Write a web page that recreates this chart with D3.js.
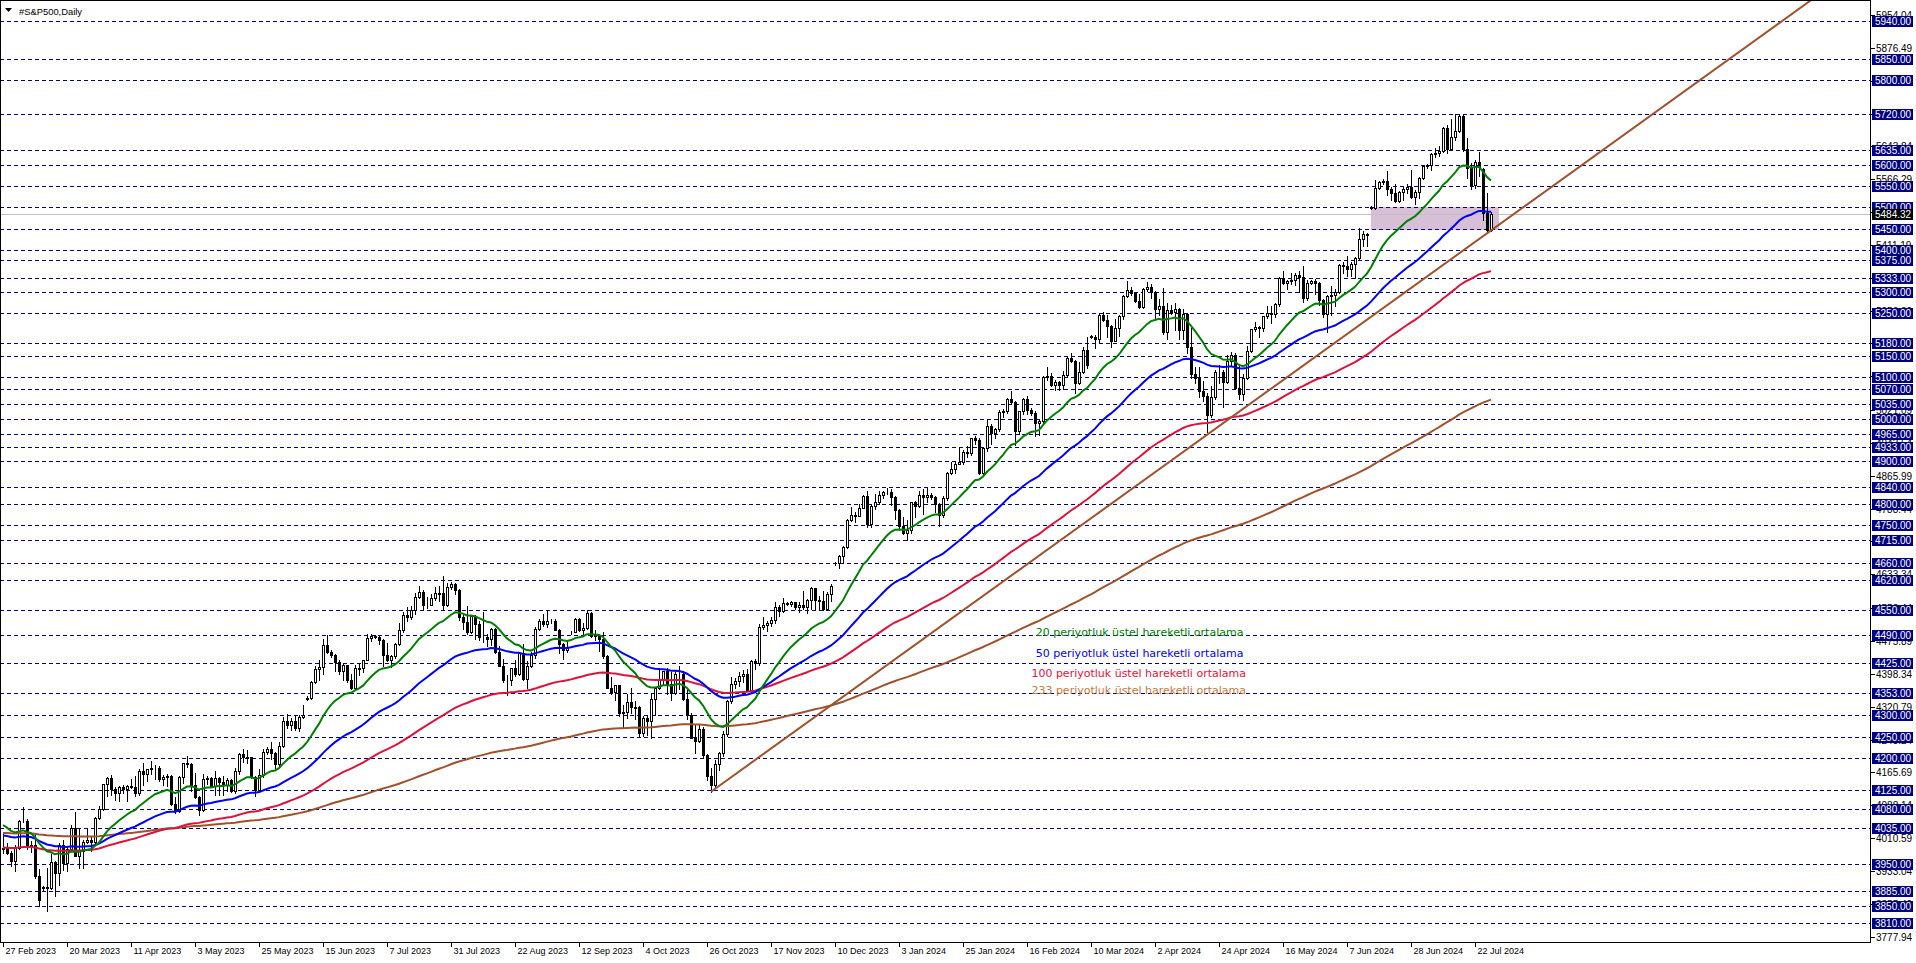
<!DOCTYPE html>
<html><head><meta charset="utf-8">
<script src="https://cdn.jsdelivr.net/npm/d3@7"></script>
<style>body{margin:0;background:#fff;overflow:hidden}svg{display:block}</style>
</head><body><svg id="chart" width="1916" height="963"></svg>
<script>
// ---------- DATA ----------
const opens = [3985,3988,3976,3956,3986,4051,4052,3990,3995,3921,3893,3894,3892,3955,3927,3995,3951,3984,4034,3969,3980,4002,4007,4001,4057,4080,4138,4152,4127,4118,4131,4126,4134,4132,4116,4170,4161,4173,4176,4176,4151,4154,4157,4090,4075,4154,4187,4185,4137,4107,4077,4151,4152,4133,4152,4143,4137,4148,4121,4170,4208,4202,4201,4154,4123,4159,4213,4222,4212,4186,4227,4287,4277,4287,4271,4297,4340,4342,4380,4410,4414,4467,4450,4444,4427,4404,4419,4385,4366,4413,4412,4430,4484,4488,4486,4478,4443,4430,4440,4469,4501,4538,4533,4549,4581,4591,4560,4561,4578,4590,4589,4560,4604,4610,4597,4533,4521,4497,4536,4516,4485,4485,4480,4505,4451,4418,4383,4383,4412,4399,4447,4386,4416,4442,4505,4522,4515,4522,4524,4502,4470,4455,4496,4498,4527,4501,4506,4543,4488,4490,4480,4440,4365,4355,4371,4307,4308,4332,4320,4319,4259,4293,4287,4338,4364,4385,4404,4375,4354,4398,4398,4339,4301,4247,4240,4269,4207,4157,4137,4186,4212,4256,4335,4375,4381,4393,4398,4361,4429,4425,4508,4514,4519,4525,4557,4547,4565,4564,4567,4556,4561,4556,4573,4600,4573,4570,4552,4587,4659,4661,4677,4699,4761,4774,4772,4791,4819,4752,4795,4804,4821,4827,4828,4815,4785,4747,4730,4738,4803,4795,4821,4817,4820,4815,4800,4773,4813,4872,4882,4895,4899,4923,4920,4955,4951,4872,4931,4984,4966,4976,5017,5019,5047,5041,4971,5019,5047,5022,5015,4990,4996,5100,5101,5080,5088,5080,5105,5145,5138,5085,5111,5162,5195,5194,5188,5246,5235,5219,5185,5215,5244,5290,5305,5297,5279,5265,5308,5313,5299,5260,5266,5205,5257,5253,5259,5211,5248,5171,5107,5096,5067,5055,5010,5051,5110,5111,5087,5138,5152,5073,5060,5098,5161,5212,5217,5216,5243,5251,5247,5272,5332,5321,5326,5329,5341,5335,5287,5322,5325,5321,5281,5249,5291,5294,5301,5364,5361,5355,5367,5381,5426,5438,5500,5499,5546,5559,5562,5544,5534,5516,5536,5544,5547,5524,5537,5570,5597,5599,5625,5628,5632,5687,5638,5667,5681,5716,5637,5593,5552,5608,5590,5487,5447];
const highs = [4024,4000,3980,3995,4053,4083,4056,4004,4021,3938,3897,3941,3973,3957,4000,4005,3989,4042,4071,4032,4005,4033,4012,4060,4087,4139,4155,4160,4131,4134,4135,4135,4149,4158,4174,4187,4174,4192,4183,4181,4159,4162,4160,4108,4156,4188,4204,4188,4164,4110,4162,4156,4154,4168,4155,4156,4153,4150,4175,4212,4222,4218,4203,4156,4174,4221,4226,4237,4214,4238,4296,4303,4293,4302,4301,4325,4345,4382,4416,4432,4480,4489,4455,4446,4430,4421,4420,4399,4419,4425,4432,4492,4492,4491,4490,4480,4471,4442,4471,4518,4545,4556,4559,4589,4605,4596,4581,4587,4604,4606,4629,4612,4616,4612,4599,4538,4559,4538,4538,4522,4544,4493,4507,4507,4463,4434,4395,4413,4430,4448,4468,4428,4449,4508,4529,4539,4548,4527,4528,4505,4472,4477,4500,4530,4530,4518,4549,4545,4503,4492,4498,4442,4392,4372,4373,4325,4350,4365,4335,4322,4298,4298,4353,4366,4412,4406,4411,4403,4408,4417,4405,4363,4305,4278,4280,4272,4210,4177,4196,4213,4263,4336,4390,4389,4402,4407,4409,4432,4434,4516,4533,4522,4532,4567,4560,4577,4568,4570,4568,4567,4593,4575,4604,4602,4582,4593,4592,4611,4663,4678,4700,4763,4793,4780,4800,4821,4829,4797,4822,4830,4831,4838,4835,4818,4788,4768,4762,4804,4806,4829,4836,4838,4826,4818,4802,4818,4874,4899,4898,4933,4927,4936,4956,4960,4955,4932,5000,4988,4979,5022,5024,5050,5067,5043,5020,5050,5055,5026,5018,5000,5102,5123,5109,5092,5090,5113,5148,5156,5140,5134,5170,5194,5199,5199,5251,5252,5246,5222,5236,5245,5292,5325,5312,5298,5296,5309,5324,5320,5302,5283,5310,5275,5270,5274,5262,5260,5250,5214,5124,5122,5090,5062,5079,5116,5128,5115,5152,5159,5155,5130,5107,5172,5212,5230,5220,5244,5267,5266,5275,5335,5349,5328,5346,5344,5349,5361,5329,5328,5330,5323,5284,5293,5314,5308,5365,5371,5384,5372,5382,5452,5445,5440,5502,5564,5562,5566,5585,5548,5555,5539,5549,5555,5587,5541,5571,5599,5602,5628,5639,5645,5690,5695,5708,5720,5720,5719,5663,5604,5612,5630,5592,5534,5490];
const lows = [3976,3974,3945,3933,3984,4048,3984,3978,3917,3850,3888,3838,3890,3873,3900,3935,3933,3982,3968,3941,3940,3998,3981,4000,4055,4078,4110,4113,4100,4098,4118,4097,4128,4111,4112,4137,4146,4161,4150,4145,4135,4134,4088,4069,4072,4140,4178,4122,4104,4064,4075,4138,4130,4112,4112,4112,4122,4120,4118,4163,4190,4188,4152,4111,4120,4155,4210,4198,4172,4180,4225,4270,4266,4266,4264,4295,4336,4338,4376,4384,4398,4447,4438,4405,4398,4385,4378,4362,4362,4395,4402,4430,4475,4482,4468,4416,4428,4415,4436,4466,4498,4522,4528,4540,4578,4552,4553,4560,4572,4570,4550,4558,4598,4587,4525,4504,4493,4495,4481,4479,4474,4465,4466,4447,4417,4378,4348,4373,4394,4396,4385,4366,4414,4436,4501,4512,4508,4518,4501,4448,4434,4450,4493,4496,4499,4492,4504,4485,4479,4453,4436,4364,4351,4337,4298,4271,4294,4307,4292,4250,4251,4255,4248,4300,4362,4372,4351,4337,4350,4362,4336,4292,4246,4212,4238,4202,4147,4120,4130,4172,4205,4252,4330,4364,4370,4380,4357,4355,4410,4420,4505,4499,4511,4518,4534,4545,4561,4558,4551,4545,4551,4542,4552,4551,4551,4549,4550,4571,4656,4648,4661,4695,4759,4757,4770,4789,4745,4745,4788,4800,4814,4822,4796,4765,4742,4728,4715,4730,4768,4792,4776,4805,4812,4781,4748,4768,4810,4870,4872,4893,4895,4911,4914,4940,4871,4866,4925,4942,4955,4972,5006,5015,5035,4938,4965,5012,5012,5010,4960,4962,4990,5093,5079,5068,5068,5070,5100,5134,5062,5083,5108,5121,5191,5167,5180,5231,5193,5171,5185,5196,5236,5288,5293,5277,5262,5262,5302,5285,5239,5245,5200,5190,5248,5210,5188,5188,5155,5098,5084,5052,5043,4970,5005,5048,5086,5029,5085,5125,5071,5048,5046,5095,5158,5208,5194,5209,5239,5228,5240,5268,5320,5306,5319,5317,5301,5276,5282,5318,5295,5269,5242,5205,5246,5267,5298,5344,5339,5337,5333,5378,5408,5408,5497,5497,5543,5556,5530,5517,5513,5513,5518,5534,5523,5508,5521,5567,5594,5588,5619,5622,5630,5629,5635,5660,5679,5632,5570,5544,5545,5574,5470,5440,5443];
const closes = [3988,3976,3956,3986,4051,4052,3990,3995,3921,3865,3894,3892,3955,3927,3995,3951,3984,4034,3969,3980,4002,4007,4001,4057,4080,4138,4152,4127,4118,4131,4126,4134,4132,4116,4170,4161,4173,4176,4176,4151,4154,4157,4090,4075,4154,4187,4185,4137,4107,4077,4151,4152,4133,4152,4143,4137,4148,4121,4170,4208,4202,4201,4154,4123,4159,4213,4222,4212,4186,4227,4287,4277,4287,4271,4297,4302,4342,4380,4410,4414,4467,4450,4444,4427,4404,4419,4385,4366,4413,4412,4430,4484,4488,4486,4478,4443,4430,4440,4469,4501,4538,4533,4549,4581,4591,4560,4561,4578,4590,4589,4560,4604,4610,4597,4533,4521,4497,4536,4516,4485,4485,4480,4505,4451,4418,4383,4383,4412,4399,4447,4386,4416,4442,4505,4522,4515,4522,4524,4502,4470,4455,4461,4498,4527,4501,4506,4543,4488,4490,4480,4440,4365,4355,4371,4307,4308,4332,4320,4319,4259,4293,4287,4338,4364,4385,4404,4375,4354,4398,4398,4339,4301,4247,4240,4269,4207,4157,4137,4186,4212,4256,4335,4375,4381,4393,4398,4361,4429,4425,4508,4514,4519,4525,4557,4547,4565,4564,4567,4556,4561,4556,4573,4600,4573,4570,4552,4587,4606,4661,4677,4699,4761,4774,4772,4791,4819,4752,4795,4804,4821,4827,4828,4815,4785,4747,4730,4738,4803,4795,4821,4817,4820,4815,4800,4773,4813,4872,4882,4895,4899,4923,4920,4955,4951,4872,4931,4984,4966,4976,5017,5019,5047,5041,4971,5019,5047,5022,5015,4990,4996,5100,5101,5080,5088,5080,5105,5145,5138,5085,5111,5162,5128,5194,5188,5246,5235,5219,5185,5215,5244,5290,5305,5297,5279,5265,5308,5313,5299,5260,5266,5205,5257,5253,5259,5211,5248,5171,5107,5096,5067,5055,5010,5051,5110,5111,5087,5138,5152,5073,5060,5098,5161,5212,5217,5216,5243,5251,5247,5272,5332,5321,5326,5329,5341,5335,5287,5322,5325,5321,5281,5249,5291,5294,5301,5364,5361,5355,5367,5381,5426,5438,5435,5499,5546,5559,5562,5544,5534,5516,5536,5544,5547,5524,5537,5570,5597,5599,5625,5628,5632,5687,5638,5667,5681,5716,5637,5593,5552,5608,5595,5487,5447,5484.32];

const dateLabels = ["27 Feb 2023","20 Mar 2023","11 Apr 2023","3 May 2023","25 May 2023","15 Jun 2023","7 Jul 2023","31 Jul 2023","22 Aug 2023","12 Sep 2023","4 Oct 2023","26 Oct 2023","17 Nov 2023","10 Dec 2023","3 Jan 2024","25 Jan 2024","16 Feb 2024","10 Mar 2024","2 Apr 2024","24 Apr 2024","16 May 2024","7 Jun 2024","28 Jun 2024","22 Jul 2024"];
const dateLabelBars = [0,16,32,48,64,80,96,112,128,144,160,176,192,208,224,240,256,272,288,304,320,336,352,368];

const levelPrices = [5940,5850,5800,5720,5635,5600,5550,5500,5450,5400,5375,5333,5300,5250,5180,5150,5100,5070,5035,5000,4965,4933,4900,4840,4800,4750,4715,4660,4620,4550,4490,4425,4353,4300,4250,4200,4125,4080,4035,3950,3885,3850,3810];
const priceTicks = [5954.04,5876.49,5798.94,5721.39,5643.84,5566.29,5488.74,5411.19,5333.64,5256.09,5178.54,5100.99,5021.09,4943.54,4865.99,4788.44,4710.89,4633.34,4553.44,4475.89,4398.34,4320.79,4243.24,4165.69,4088.14,4010.59,3933.04,3855.49,3777.94];
const lastPrice = 5484.32;

const emaPeriods = [233, 100, 50, 20];
const emaSeeds = [4023, 3988, 4018, 4047];

const legendTexts = ["20 periyotluk üstel hareketli ortalama","50 periyotluk üstel hareketli ortalama","100 periyotluk üstel hareketli ortalama","233 periyotluk üstel hareketli ortalama"];

const trendBars = [177, 374];
const trendPrices = [4120, 5459];
const zoneBars = [342, 374];
const zonePrices = [5500, 5446];
const chartTitle = "#S&P500,Daily";

// ---------- STYLE / LAYOUT ----------
const W = 1916, H = 963, plotR = 1870, plotB = 942;
const emaColors = {233:"#a0522d", 100:"#dc143c", 50:"#0000ff", 20:"#008000"};
const legendColors = ["#008000","#0000ff","#e8103a","#c87a40"];
const legendPos = [[258.2,4497],[258.2,4448],[257.1,4400],[257.1,4360]];
const navy = "#000080";

const svg = d3.select("#chart");
const x = d3.scaleLinear().domain([0, 372]).range([3, 1491]);
const y = d3.scaleLinear().domain([3810, 5940]).range([923, 21]);
const cr = v => Math.round(v) + 0.5;

svg.append("rect").attr("width", W).attr("height", H).attr("fill", "#fff");
svg.append("defs").append("clipPath").attr("id", "plot")
  .append("rect").attr("x", 1).attr("y", 1).attr("width", plotR - 1).attr("height", plotB - 1);
const plot = svg.append("g").attr("clip-path", "url(#plot)");

// zone rectangle
plot.append("rect")
  .attr("x", Math.round(x(zoneBars[0]))).attr("y", Math.round(y(zonePrices[0])))
  .attr("width", Math.round(x(zoneBars[1])) - Math.round(x(zoneBars[0])))
  .attr("height", Math.round(y(zonePrices[1])) - Math.round(y(zonePrices[0])))
  .attr("fill", "#d8bfd8");

// horizontal levels
plot.selectAll("line.level").data(levelPrices).enter().append("line")
  .attr("x1", 0).attr("x2", plotR).attr("y1", d => cr(y(d))).attr("y2", d => cr(y(d)))
  .attr("stroke", navy).attr("stroke-width", 1).attr("stroke-dasharray", "4,3");

// bid line
plot.append("line").attr("x1", 0).attr("x2", plotR)
  .attr("y1", cr(y(lastPrice))).attr("y2", cr(y(lastPrice)))
  .attr("stroke", "#c0c0c0").attr("stroke-width", 1);

// candles
const bars = closes.map((c, i) => ({i, o: opens[i], h: highs[i], l: lows[i], c}));
const cg = plot.append("g");
bars.forEach(b => {
  const cx = Math.round(x(b.i));
  const hi = Math.max(b.h, b.o, b.c), lo = Math.min(b.l, b.o, b.c);
  cg.append("line").attr("x1", cx + 0.5).attr("x2", cx + 0.5)
    .attr("y1", Math.round(y(hi))).attr("y2", Math.round(y(lo)) + 1)
    .attr("stroke", "#000").attr("stroke-width", 1);
  const top = Math.round(y(Math.max(b.o, b.c))), bot = Math.round(y(Math.min(b.o, b.c)));
  if (b.c >= b.o) {
    cg.append("rect").attr("x", cx - 0.5).attr("y", top + 0.5)
      .attr("width", 2).attr("height", Math.max(bot - top, 0))
      .attr("fill", "#fff").attr("stroke", "#000").attr("stroke-width", 1);
  } else {
    cg.append("rect").attr("x", cx - 1).attr("y", top)
      .attr("width", 3).attr("height", Math.max(bot - top, 1) + 1)
      .attr("fill", "#000");
  }
});

// EMAs
function ema(period, seed) {
  const k = 2 / (period + 1);
  let prev = seed;
  return closes.map(c => (prev = prev + k * (c - prev)));
}
emaPeriods.forEach((p, j) => {
  const vals = ema(p, emaSeeds[j]);
  plot.append("path").datum(vals)
    .attr("d", d3.line().x((d, i) => x(i)).y(d => y(d)))
    .attr("fill", "none").attr("stroke", emaColors[p]).attr("stroke-width", 2);
});

// trend line (ray to the right)
const slope = (trendPrices[1] - trendPrices[0]) / (trendBars[1] - trendBars[0]);
const endBar = 470;
plot.append("line")
  .attr("x1", x(trendBars[0])).attr("y1", y(trendPrices[0]))
  .attr("x2", x(endBar)).attr("y2", y(trendPrices[0] + slope * (endBar - trendBars[0])))
  .attr("stroke", "#a0522d").attr("stroke-width", 2);

// legend texts
legendTexts.forEach((t, j) => {
  plot.append("text").attr("x", x(legendPos[j][0])).attr("y", y(legendPos[j][1]))
    .attr("dy", "0.35em").attr("fill", legendColors[j])
    .attr("font-family", "DejaVu Sans, sans-serif").attr("font-size", 11).text(t);
});

// frame
svg.append("rect").attr("x", 0.5).attr("y", 0.5).attr("width", plotR).attr("height", plotB)
  .attr("fill", "none").attr("stroke", "#000").attr("stroke-width", 1);

// title
svg.append("path").attr("d", "M5,8 L12,8 L8.5,12 Z").attr("fill", "#000");
svg.append("text").attr("x", 19).attr("y", 14.5).attr("font-family", "Liberation Sans, Arial, sans-serif")
  .attr("font-size", 9.4).attr("fill", "#000").text(chartTitle);

// x axis
const xa = svg.append("g");
dateLabelBars.forEach((b, k) => {
  const px = Math.round(x(b)) + 0.5;
  xa.append("line").attr("x1", px).attr("x2", px).attr("y1", plotB).attr("y2", plotB + 5)
    .attr("stroke", "#000");
  xa.append("text").attr("x", px + 2).attr("y", 954).attr("font-family", "Liberation Sans, Arial, sans-serif")
    .attr("font-size", 9).attr("fill", "#000").text(dateLabels[k]);
});

// y axis: plain ticks
const ya = svg.append("g");
priceTicks.forEach(p => {
  const py = cr(y(p));
  ya.append("line").attr("x1", plotR + 1).attr("x2", plotR + 5).attr("y1", py).attr("y2", py).attr("stroke", "#000");
  ya.append("text").attr("x", plotR + 6).attr("y", py).attr("dy", "0.35em")
    .attr("font-family", "Liberation Sans, Arial, sans-serif").attr("font-size", 10).attr("fill", "#000")
    .text(p.toFixed(2));
});
// y axis: level labels
levelPrices.forEach(p => {
  const py = Math.round(y(p));
  ya.append("rect").attr("x", plotR + 2).attr("y", py - 5).attr("width", 41).attr("height", 11).attr("fill", navy);
  ya.append("text").attr("x", plotR + 5).attr("y", py).attr("dy", "0.36em")
    .attr("font-family", "Liberation Sans, Arial, sans-serif").attr("font-size", 10).attr("fill", "#fff")
    .text(p.toFixed(2));
});
// bid label
{
  const py = Math.round(y(lastPrice));
  ya.append("rect").attr("x", plotR + 2).attr("y", py - 5).attr("width", 41).attr("height", 11).attr("fill", "#000");
  ya.append("text").attr("x", plotR + 5).attr("y", py).attr("dy", "0.36em")
    .attr("font-family", "Liberation Sans, Arial, sans-serif").attr("font-size", 10).attr("fill", "#fff")
    .text(lastPrice.toFixed(2));
}
</script></body></html>
